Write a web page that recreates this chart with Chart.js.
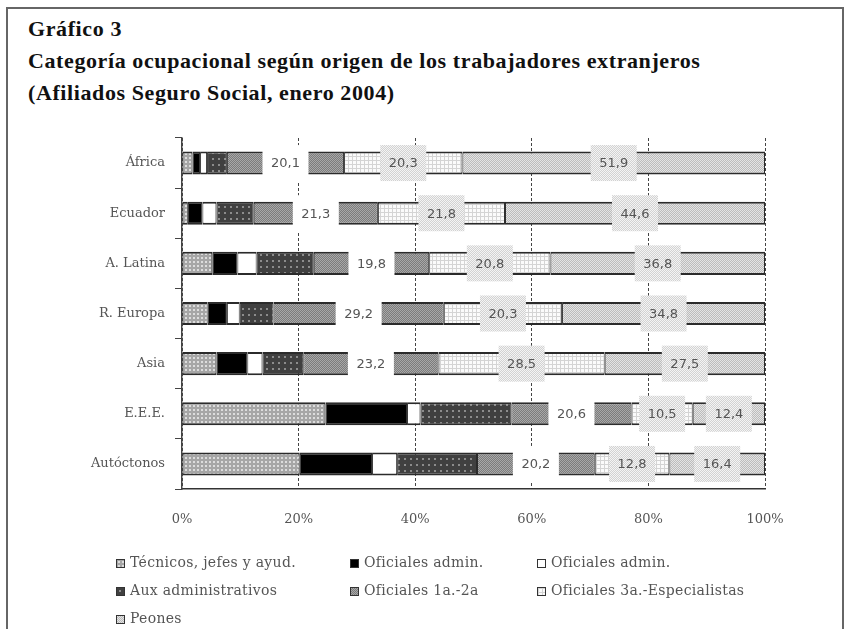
<!DOCTYPE html>
<html>
<head>
<meta charset="utf-8">
<title>Gráfico 3</title>
<script src="https://cdn.jsdelivr.net/npm/chart.js@4.4.1/dist/chart.umd.min.js"></script>
<style>
  body { margin: 0; background: #fff; }
  #page { position: relative; width: 848px; height: 629px; overflow: hidden; }
  #frame { position: absolute; left: 6px; top: 7px; width: 838px; height: 700px; border: 2px solid #666; box-sizing: border-box; }
  #title { position: absolute; left: 28px; top: 13px; font: bold 22px 'Liberation Serif', serif; letter-spacing: 0.6px; line-height: 32px; color: #111; }
  #chart { position: absolute; left: 0; top: 0; }
  .leg { position: absolute; font: 14px 'DejaVu Serif', serif; color: #555; white-space: nowrap; line-height: 16px; letter-spacing: 0.3px; }
  .leg canvas { display: inline-block; vertical-align: -1px; margin-right: 5px; border: 1px solid #333; }
</style>
</head>
<body>
<div id="page">
  <div id="frame"></div>
  <div id="title">Gráfico 3<br>Categoría ocupacional según origen de los trabajadores extranjeros<br>(Afiliados Seguro Social, enero 2004)</div>
  <canvas id="chart" width="848" height="629"></canvas>
  <div id="legend"></div>
</div>
<script>
// origins (rows, top to bottom)
const categories = ['África', 'Ecuador', 'A. Latina', 'R. Europa', 'Asia', 'E.E.E.', 'Autóctonos'];

// series names, same order as the stack
const seriesNames = [
  'Técnicos, jefes y ayud.',
  'Oficiales admin.',
  'Oficiales admin.',
  'Aux administrativos',
  'Oficiales 1a.-2a',
  'Oficiales 3a.-Especialistas',
  'Peones'
];

// percentages per origin
const tecnicos    = [1.8, 1.0, 5.2, 4.4, 5.9, 24.6, 20.2];
const oficAdmin1  = [1.3, 2.5, 4.3, 3.3, 5.3, 14.0, 12.4];
const oficAdmin2  = [1.2, 2.4, 3.3, 2.2, 2.6, 2.3, 4.3];
const auxAdmin    = [3.4, 6.4, 9.8, 5.8, 7.0, 15.6, 13.7];
const oficiales12 = [20.1, 21.3, 19.8, 29.2, 23.2, 20.6, 20.2];
const oficiales3  = [20.3, 21.8, 20.8, 20.3, 28.5, 10.5, 12.8];
const peones      = [51.9, 44.6, 36.8, 34.8, 27.5, 12.4, 16.4];

const xTicks = [0, 20, 40, 60, 80, 100];

// series that get a value box in the middle of the segment
const labeledSeries = [4, 5, 6];

// small tiles to imitate the printed hatch fills
function makeTile(w, h, draw) {
  const c = document.createElement('canvas');
  c.width = w; c.height = h;
  draw(c.getContext('2d'));
  return c;
}
function checker(a, b) {
  return makeTile(2, 2, g => {
    g.fillStyle = a; g.fillRect(0, 0, 2, 2);
    g.fillStyle = b; g.fillRect(0, 0, 1, 1); g.fillRect(1, 1, 1, 1);
  });
}

const tiles = [
  makeTile(4, 4, g => { g.fillStyle = '#a6a6a6'; g.fillRect(0, 0, 4, 4); g.fillStyle = '#dcdcdc'; g.fillRect(1, 1, 2, 2); }),
  makeTile(2, 2, g => { g.fillStyle = '#000'; g.fillRect(0, 0, 2, 2); }),
  makeTile(2, 2, g => { g.fillStyle = '#fff'; g.fillRect(0, 0, 2, 2); }),
  makeTile(6, 6, g => { g.fillStyle = '#404040'; g.fillRect(0, 0, 6, 6); g.fillStyle = '#8c8c8c'; g.fillRect(2, 2, 2, 2); }),
  checker('#7c7c7c', '#a8a8a8'),
  makeTile(4, 4, g => { g.fillStyle = '#d4d4d4'; g.fillRect(0, 0, 4, 4); g.fillStyle = '#fbfbfb'; g.fillRect(1, 1, 3, 3); }),
  checker('#bcbcbc', '#e4e4e4')
];
const boxTile = checker('#d2d2d2', '#f4f4f4');

const ctx = document.getElementById('chart').getContext('2d');
const patterns = tiles.map(t => ctx.createPattern(t, 'repeat'));
const boxPattern = ctx.createPattern(boxTile, 'repeat');

const seriesValues = [tecnicos, oficAdmin1, oficAdmin2, auxAdmin, oficiales12, oficiales3, peones];

const datasets = seriesValues.map((vals, i) => ({
  label: seriesNames[i],
  data: vals,
  backgroundColor: patterns[i],
  borderColor: '#2b2b2b',
  borderWidth: { top: 2, bottom: 2, left: 1, right: 1 },
  borderSkipped: false,
  categoryPercentage: 1,
  barPercentage: 0.46
}));

// value boxes drawn over the segments, like in the original
const valueBoxes = {
  id: 'valueBoxes',
  afterDatasetsDraw(chart) {
    const c = chart.ctx;
    labeledSeries.forEach(i => {
      const meta = chart.getDatasetMeta(i);
      meta.data.forEach((bar, j) => {
        const v = chart.data.datasets[i].data[j];
        const cx = (bar.x + bar.base) / 2;
        const cy = bar.y;
        c.save();
        c.fillStyle = i === 4 ? '#fff' : boxPattern;
        c.fillRect(cx - 23, cy - 18, 46, 36);
        c.font = '13px "DejaVu Sans", sans-serif';
        c.fillStyle = '#555';
        c.textAlign = 'center';
        c.textBaseline = 'middle';
        c.fillText(v.toFixed(1).replace('.', ','), cx, cy + 1);
        c.restore();
      });
    });
  }
};

new Chart(ctx, {
  type: 'bar',
  data: { labels: categories, datasets: datasets },
  plugins: [valueBoxes],
  options: {
    indexAxis: 'y',
    responsive: false,
    animation: false,
    layout: { padding: { left: 0, right: 83, top: 138, bottom: 100 } },
    plugins: { legend: { display: false }, tooltip: { enabled: false } },
    scales: {
      x: {
        stacked: true,
        min: 0,
        max: 100,
        afterBuildTicks: axis => { axis.ticks = xTicks.map(v => ({ value: v })); },
        afterFit: axis => { axis.height = 40; },
        grid: { color: '#444', lineWidth: 1, drawTicks: false },
        border: { display: true, color: '#333', width: 1.5, dash: [3, 2] },
        ticks: {
          padding: 23,
          color: '#555',
          font: { family: 'DejaVu Serif', size: 13 },
          callback: v => v + '%'
        }
      },
      y: {
        stacked: true,
        afterFit: axis => { axis.width = 182; },
        grid: { color: '#444', drawOnChartArea: false, tickLength: 7, offset: true },
        border: { display: true, color: '#444', width: 1.5 },
        ticks: {
          padding: 10,
          color: '#555',
          font: { family: 'DejaVu Serif', size: 13 }
        }
      }
    }
  }
});

// legend in three columns, built from the series names
const legendCols = [116, 350, 537];
const legendRows = [562, 590, 618];
const legend = document.getElementById('legend');
seriesNames.forEach((name, k) => {
  const item = document.createElement('div');
  item.className = 'leg';
  item.style.left = legendCols[k % 3] + 'px';
  item.style.top = (legendRows[Math.floor(k / 3)] - 8) + 'px';
  const sw = document.createElement('canvas');
  sw.width = 7; sw.height = 7;
  const g = sw.getContext('2d');
  g.fillStyle = g.createPattern(tiles[k], 'repeat');
  g.fillRect(0, 0, 7, 7);
  item.appendChild(sw);
  item.appendChild(document.createTextNode(name));
  legend.appendChild(item);
});
</script>
</body>
</html>
